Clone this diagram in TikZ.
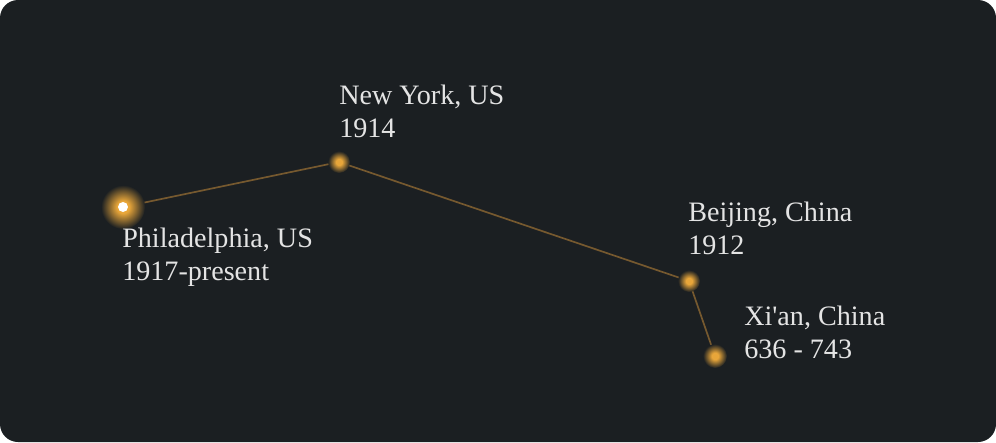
\documentclass[tikz,border=0pt]{standalone}
\usepackage{fontspec}
\setmainfont{Liberation Serif}[Ligatures=TeXOff]
\usepackage{tikz}
\usepackage{xcolor}
\definecolor{nightbg}{HTML}{1B1F22}
\definecolor{routegold}{HTML}{76592F}
\definecolor{glowgold}{HTML}{E8A63A}
\definecolor{labelgrey}{HTML}{E4E4E4}
\pgfdeclareradialshading{halo}{\pgfpoint{0bp}{0bp}}{color(0bp)=(glowgold); color(7bp)=(glowgold); color(25bp)=(nightbg); color(50bp)=(nightbg)}

\tikzset{
  route/.style={routegold,line width=1.2pt},
  glow/.style={shading=halo},
  place/.style={anchor=north west,inner sep=0pt,align=left,text=labelgrey,font=\fontsize{20}{23}\selectfont}
}

\begin{document}
\begin{tikzpicture}[x=0.025cm,y=-0.025cm]
  \fill[nightbg,rounded corners=0.45cm] (0,0) rectangle (996,442);
  \useasboundingbox (0,0) rectangle (996,442);
  % stops along the route
  \coordinate (phl) at (123,207);
  \coordinate (nyc) at (339,162);
  \coordinate (bjs) at (689,281);
  \coordinate (xian) at (715,356);
  \draw[route] (phl) -- (nyc) -- (bjs) -- (xian);
  \shade[glow] (phl) circle (22);
  \shade[glow] (nyc) circle (11);
  \shade[glow] (bjs) circle (11);
  \shade[glow] (xian) circle (12);
  \fill[white] (phl) circle (5);
  % labels
  \node[place] (phllabel) at (122,228) {Philadelphia, US\\1917-present};
  \node[place] (nyclabel) at (339,85) {New York, US\\1914};
  \node[place] (bjslabel) at (688,202) {Beijing, China\\1912};
  \node[place] (xianlabel) at (744,306) {Xi'an, China\\636 - 743};
\end{tikzpicture}
\end{document}
